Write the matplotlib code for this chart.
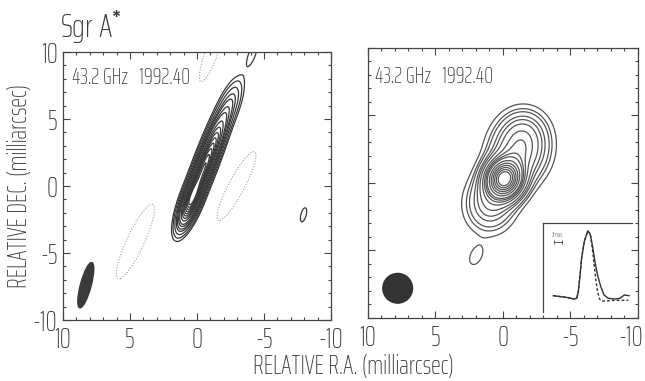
import matplotlib
matplotlib.use("Agg")
import matplotlib.pyplot as plt
import numpy as np
from matplotlib.patches import Ellipse, Circle
from matplotlib.ticker import MultipleLocator
from matplotlib.transforms import ScaledTranslation

# fonte estreita parecida com a do plotter original
plt.rcParams['font.family'] = ['Saira ExtraCondensed', 'Sofia Sans Extra Condensed',
                               'Barlow Condensed', 'DejaVu Sans']
plt.rcParams['font.weight'] = 'light'
plt.rcParams['axes.unicode_minus'] = False
plt.rcParams['mathtext.fontset'] = 'custom'
plt.rcParams['mathtext.rm'] = 'Saira ExtraCondensed:light'
plt.rcParams['mathtext.it'] = 'Saira ExtraCondensed:light'
plt.rcParams['mathtext.bf'] = 'Saira ExtraCondensed:bold'

TXT = '#3a3a3a'

# ---- dados ----
title = "Sgr A$^{\\mathbf{*}}$"
freq_label = "43.2 GHz   1992.40"
ra_ticks = [10, 5, 0, -5, -10]
dec_ticks = [10, 5, 0, -5, -10]
tick_labels = ["10", "5", "0", "-5", "-10"]

# componentes gaussianas do mapa da esquerda (x, y em mas; pa em graus)
left_x = [0.4, -0.5, -1.3, -2.3, 4.6, -2.95, -1.1, -4.1, -7.95]
left_y = [-1.0, 1.3, 3.4, 5.8, -4.15, 0.0, 10.0, 9.8, -2.15]
left_amp = [1.0, 0.85, 0.45, 0.1, -0.02, -0.02, -0.02, 0.015, 0.015]
left_major = [1.1, 1.3, 1.3, 1.2, 2.6, 2.45, 2.0, 0.9, 0.6]
left_minor = [0.32, 0.33, 0.34, 0.38, 0.55, 0.5, 0.4, 0.28, 0.22]
left_pa = [21, 21, 21, 22, 25, 28, 20, 20, 15]
left_levels = [0.01, 0.02, 0.04, 0.07, 0.1, 0.15, 0.2, 0.3, 0.4, 0.5, 0.6, 0.7, 0.8,
               0.9, 1.0]
neg_levels = [-0.01]

# componentes do mapa da direita
right_x = [-0.1, -1.2, -1.5, 0.9, 2.0]
right_y = [0.3, 2.4, 3.8, -1.4, -5.4]
right_amp = [1.0, 0.2, 0.04, 0.1, 0.015]
right_major = [0.85, 1.35, 0.9, 1.2, 0.75]
right_minor = [0.75, 1.1, 0.9, 1.0, 0.45]
right_pa = [20, 15, 20, 10, 25]
right_levels = [0.01, 0.02, 0.03, 0.05, 0.07, 0.1, 0.15, 0.2, 0.25, 0.3, 0.4, 0.5,
                0.6, 0.7, 0.8, 0.9]

# feixes (beam)
left_beam = (8.3, -7.4, 0.8, 3.5, 15)   # x, y, largura, altura, angulo
right_beam = (7.8, -7.8, 1.1)           # x, y, raio

# perfil do detalhe (inset)
prof_x = [-13.1, -7.5, -5.6, -4.35, -3.75, -3.1, -2.5, -1.5, -0.2, 0.64, 1.5, 2.5,
          3.5, 4.65, 5.9, 7.5, 10.0, 11.9, 13.5, 15.3]
prof_solid = [0.02, -0.01, -0.03, -0.02, 0.08, 0.33, 0.59, 0.84, 1.0, 0.96, 0.79, 0.53,
              0.33, 0.16, 0.03, -0.02, -0.03, -0.02, 0.03, 0.02]
dash_x = [-13.1, -7.5, -5.6, -4.35, -3.75, -3.1, -2.5, -1.5, -0.2, 0.64, 1.0, 1.9,
          2.7, 3.4, 4.2, 5.0, 7.0, 9.5, 12.0, 15.0]
prof_dash = [0.02, -0.01, -0.03, -0.02, 0.08, 0.33, 0.59, 0.84, 1.0, 0.96, 0.9, 0.6,
             0.3, 0.1, -0.03, -0.06, -0.06, -0.05, -0.05, -0.05]


def gauss(X, Y, x0, y0, amp, smaj, smin, pa):
    th = np.deg2rad(pa)
    s = -(X - x0) * np.sin(th) + (Y - y0) * np.cos(th)
    t = (X - x0) * np.cos(th) + (Y - y0) * np.sin(th)
    return amp * np.exp(-s**2 / (2 * smaj**2) - t**2 / (2 * smin**2))


def make_map(xs, ys, amps, majs, mins, pas):
    g = np.linspace(-10.5, 10.5, 421)
    X, Y = np.meshgrid(g, g)
    Z = np.zeros_like(X)
    for p in zip(xs, ys, amps, majs, mins, pas):
        Z += gauss(X, Y, *p)
    return X, Y, Z


def style_axes(ax, left_labels):
    ax.set_xlim(10, -10)
    ax.set_ylim(-10, 10)
    ax.set_xticks(ra_ticks)
    ax.set_xticklabels(tick_labels)
    ax.set_yticks(dec_ticks)
    if left_labels:
        ax.set_yticklabels(tick_labels)
    else:
        ax.set_yticklabels([])
    ax.xaxis.set_minor_locator(MultipleLocator(1))
    ax.yaxis.set_minor_locator(MultipleLocator(1))
    ax.tick_params(which='both', direction='in', top=True, right=True,
                   color='#444444', labelcolor=TXT, labelsize=20, width=0.8)
    ax.tick_params(which='major', length=5, pad=4)
    ax.tick_params(which='minor', length=2.5)
    for sp in ax.spines.values():
        sp.set_color('#444444')
        sp.set_linewidth(0.9)


fig = plt.figure(figsize=(6.45, 3.81), dpi=100)
ax1 = fig.add_axes([0.0977, 0.1601, 0.4155, 0.7034])
ax2 = fig.add_axes([0.5705, 0.1654, 0.4186, 0.7087])

# mapa da esquerda
X, Y, Z = make_map(left_x, left_y, left_amp, left_major, left_minor, left_pa)
ax1.contour(X, Y, Z, levels=left_levels, colors='#383838', linewidths=0.9)
ax1.contour(X, Y, Z, levels=neg_levels, colors='#a0a0a0', linewidths=0.8,
            linestyles=[(0, (1, 1.5))])
bx, by, bw, bh, ba = left_beam
ax1.add_patch(Ellipse((bx, by), bw, bh, angle=ba, color='#3a3a3a'))
style_axes(ax1, True)
ax1.text(0.034, 0.945, freq_label, transform=ax1.transAxes, ha='left', va='top',
         fontsize=16, color=TXT)

# mapa da direita
X, Y, Z = make_map(right_x, right_y, right_amp, right_major, right_minor, right_pa)
ax2.contour(X, Y, Z, levels=right_levels, colors='#555555', linewidths=0.9)
cx, cy, cr = right_beam
ax2.add_patch(Circle((cx, cy), cr, color='#333333'))
style_axes(ax2, False)
ax2.text(0.026, 0.935, freq_label, transform=ax2.transAxes, ha='left', va='top',
         fontsize=16, color=TXT)
# o ultimo rotulo encosta na borda da figura
last = ax2.get_xticklabels()[-1]
last.set_transform(last.get_transform() + ScaledTranslation(-5 / 72, 0, fig.dpi_scale_trans))

# detalhe com o perfil
axi = fig.add_axes([543 / 645, 1 - 312 / 381, 89 / 645, 89 / 381])
axi.plot(prof_x, prof_solid, color='#333333', lw=1.0)
axi.plot(dash_x, prof_dash, color='#333333', lw=1.0, ls=(0, (2, 1.5)))
axi.plot([-12.9, -9.9], [0.83, 0.83], color='#444444', lw=0.6, marker='|', ms=3, mew=0.6)
axi.text(-11.4, 0.9, "3mas", fontsize=5, ha='center', va='bottom', color='#333333')
axi.set_xlim(-17, 16.4)
axi.set_ylim(-0.227, 1.12)
axi.set_xticks([])
axi.set_yticks([])
axi.patch.set_alpha(0)
for k in ('right', 'bottom'):
    axi.spines[k].set_visible(False)
for k in ('left', 'top'):
    axi.spines[k].set_color('#444444')
    axi.spines[k].set_linewidth(0.9)

# textos da figura
fig.text(60 / 645, 1 - 38 / 381, title, fontsize=24, color=TXT, va='baseline')
fig.text(353 / 645, 7 / 381, "RELATIVE R.A. (milliarcsec)", fontsize=19,
         color=TXT, ha='center', va='baseline')
fig.text(20 / 645, 1 - 186 / 381, "RELATIVE DEC. (milliarcsec)", fontsize=19,
         color=TXT, ha='center', va='center', rotation=90)

fig.savefig("out.png", dpi=100)
